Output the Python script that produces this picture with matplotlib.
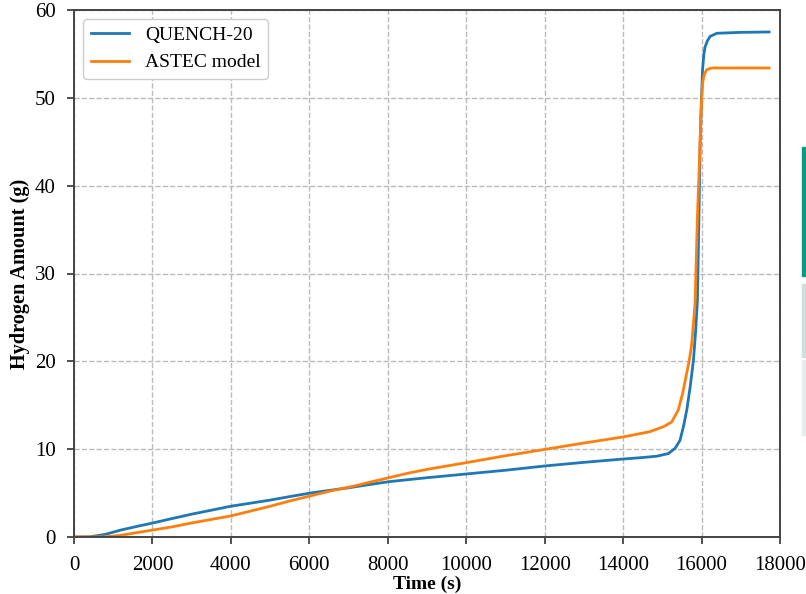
import matplotlib
matplotlib.use('Agg')
import matplotlib.pyplot as plt
from matplotlib.patches import Rectangle

# QUENCH-20 measured hydrogen (time in s, amount in g)
quench_t = [0, 400, 800, 1200, 1600, 2015, 2500, 3000, 3500, 3995, 4500, 5000,
            5500, 6020, 6500, 7000, 7500, 8030, 9000, 10010, 11000, 12010,
            13000, 14010, 14500, 14860, 15155, 15325, 15450, 15540, 15625,
            15710, 15795, 15850, 15895, 15935, 15965, 15995, 16025, 16060,
            16090, 16150, 16220, 16390, 16983, 17723]
quench_h = [0, 0.02, 0.3, 0.8, 1.2, 1.6, 2.1, 2.6, 3.05, 3.5, 3.85, 4.2,
            4.6, 5.0, 5.3, 5.6, 5.95, 6.3, 6.75, 7.18, 7.6, 8.09,
            8.5, 8.88, 9.05, 9.2, 9.5, 10.1, 11.0, 12.6, 14.5,
            17.1, 20.2, 23.5, 27.0, 37.0, 45.0, 49.5, 53.2, 55.0,
            55.8, 56.5, 57.0, 57.35, 57.45, 57.5]

# ASTEC model
astec_t = [0, 800, 1200, 1600, 2015, 2500, 3000, 3500, 4000, 4500, 5000,
           5500, 6020, 6500, 7140, 7600, 8030, 8500, 9000, 10010, 11000,
           12010, 13000, 14010, 14690, 15030, 15240, 15410, 15520, 15605,
           15690, 15750, 15835, 15895, 15940, 15980, 16005, 16030, 16065,
           16130, 16260, 17723]
astec_h = [0, 0.02, 0.2, 0.5, 0.8, 1.15, 1.6, 2.0, 2.4, 2.95, 3.5,
           4.1, 4.67, 5.2, 5.8, 6.3, 6.75, 7.25, 7.7, 8.47, 9.25,
           9.98, 10.7, 11.4, 12.0, 12.56, 13.1, 14.5, 16.4, 18.3,
           20.2, 22.0, 26.6, 36.5, 42.0, 47.5, 50.1, 51.8, 52.6,
           53.2, 53.4, 53.4]

x_ticks = [0, 2000, 4000, 6000, 8000, 10000, 12000, 14000, 16000, 18000]
y_ticks = [0, 10, 20, 30, 40, 50, 60]

plt.rcParams['font.family'] = ['Liberation Serif', 'DejaVu Serif']

fig = plt.figure(figsize=(8.06, 5.94), dpi=100)
ax = fig.add_axes([74 / 806, 1 - 537 / 594, 706 / 806, 527 / 594])

ax.plot(quench_t, quench_h, color='#1f77b4', linewidth=2.0, label='QUENCH-20')
ax.plot(astec_t, astec_h, color='#ff7f0e', linewidth=2.0, label='ASTEC model')

ax.set_xlim(0, 18000)
ax.set_ylim(0, 60)
ax.set_xticks(x_ticks)
ax.set_yticks(y_ticks)
ax.tick_params(labelsize=15, length=5, width=1.2, color='#333333')
ax.tick_params(axis='x', pad=9)
ax.tick_params(axis='y', pad=8)
ax.grid(True, linestyle='--', color='#bbbbbb', linewidth=1.0)
for s in ax.spines.values():
    s.set_color('#444444')
    s.set_linewidth(1.4)

ax.set_xlabel('Time (s)', fontsize=14, fontweight='bold', labelpad=0)
ax.set_ylabel('Hydrogen Amount (g)', fontsize=14.6, fontweight='bold', labelpad=4)

leg = ax.legend(loc='upper left', fontsize=14, handlelength=2.0, framealpha=1,
                edgecolor='#cccccc', borderaxespad=0.45)

# bits of page UI cut off at the right edge
for (y0, y1, c) in [(147, 276, '#0a9a84'), (284, 357, '#cfdfdc'), (360, 435, '#e5eeec')]:
    fig.patches.append(Rectangle((802 / 806, 1 - y1 / 594), 4 / 806, (y1 - y0) / 594,
                                 transform=fig.transFigure, color=c, zorder=5))

fig.savefig('out.png', dpi=100)
